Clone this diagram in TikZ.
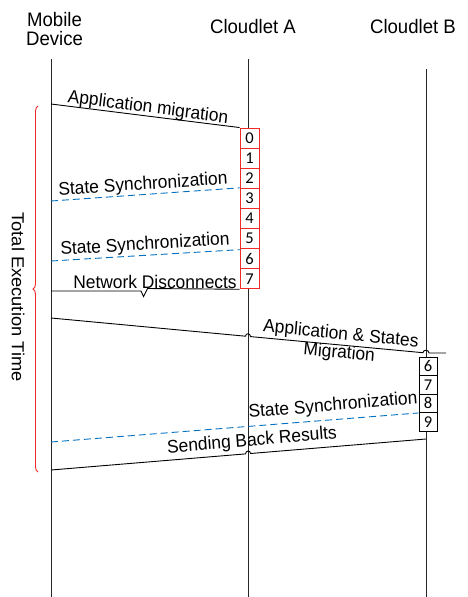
\documentclass[tikz,border=0pt]{standalone}
\usepackage{fontspec}
\setmainfont{Liberation Sans}
\newfontfamily\digitfont{Carlito}
\usetikzlibrary{decorations.pathreplacing}
\definecolor{syncblue}{RGB}{0,112,192}
\definecolor{boxred}{RGB}{240,40,40}

\begin{document}
\begin{tikzpicture}[x=1pt,y=-1pt,
  lifeline/.style={draw=black!85, line width=0.9pt},
  msg/.style={draw=black, line width=0.9pt},
  sync/.style={draw=syncblue, line width=0.9pt, dash pattern=on 7pt off 4pt},
  hdr/.style={font=\fontsize{18.6}{18.5}\selectfont, align=center, inner sep=0pt, yscale=1.05},
  lbl/.style={font=\fontsize{17.4}{18}\selectfont, align=center, inner sep=0pt, yscale=1.05},
  redbox/.style={draw=boxred, fill=white, line width=0.9pt, minimum width=19pt,
    minimum height=20.1pt, inner sep=0pt, font=\digitfont\fontsize{16.5}{16.5}\selectfont},
  blkbox/.style={draw=black, fill=white, line width=0.9pt, minimum width=18pt,
    minimum height=18.5pt, inner sep=0pt, font=\digitfont\fontsize{16.5}{16.5}\selectfont},
  brace/.style={draw=boxred, line width=0.9pt, decorate,
    decoration={brace, amplitude=5pt}}
]
\useasboundingbox (0,0) rectangle (468,597);

% column headers
\node[hdr] (mob) at (54.5,29) {Mobile\\Device};
\node[hdr] (cla) at (253,27) {Cloudlet A};
\node[hdr] (clb) at (413,27) {Cloudlet B};

% lifelines
\coordinate (mtop) at (51,59);   \coordinate (mbot) at (51,597);
\coordinate (atop) at (248,59);  \coordinate (abot) at (248,597);
\coordinate (btop) at (426,69);  \coordinate (bbot) at (426,597);
\draw[lifeline] (mtop) -- (mbot);
\draw[lifeline] (atop) -- (abot);
\draw[lifeline] (btop) -- (bbot);

% state counters on cloudlet A
\foreach \i in {0,...,7} {
  \node[redbox] (r\i) at (249.5, {138.05+20.1*\i}) {\i};
}
% state counters on cloudlet B
\foreach \i in {6,...,9} {
  \node[blkbox] (b\i) at (428, {366.25+18.5*(\i-6)}) {\i};
}

% message end points on the mobile lifeline
\coordinate (m1) at (51,104);
\coordinate (m2) at (51,201);
\coordinate (m3) at (51,261);
\coordinate (m4) at (51,291);
\coordinate (m5) at (51,318);
\coordinate (m6) at (51,442);
\coordinate (m7) at (51,470);
\coordinate (bsend) at (426,439);
\coordinate (btail) at (446,353);

% application migration
\draw[msg] (m1) -- (r0.north west);
\node[lbl, rotate=-7.2] (tmig) at (148,108) {Application migration};

% periodic state synchronisation
\draw[sync] (m2) -- (r3.north west);
\node[lbl, rotate=3.6] (tsync1) at (143,185) {State Synchronization};
\draw[sync] (m3) -- ([yshift=-1.5pt]r6.north west);
\node[lbl, rotate=3.4] (tsync2) at (145,245) {State Synchronization};

% broken link
\draw[msg] (m4) -- (141,291) -- (143.5,296.5) -- (147.5,288.5) -- (r7.south west);
\node[lbl, anchor=base] (tnet) at (155,288.5) {Network Disconnects};

% migration to cloudlet B
\draw[msg] (m5) -- (245.5,336.2) .. controls +(0,-3.5) and +(0,-3.5) .. (250.5,336.6)
  -- (423,352.7) .. controls +(0,-3.5) and +(0,-3.5) .. (429,353) -- (btail);
\node[lbl, rotate=-5.3] (tmig2) at (340,344) {Application \& States\\Migration};

% synchronisation from cloudlet B
\draw[sync] (m6) -- (b8.south west);
\node[lbl, rotate=4.7] (tsync3) at (333,406) {State Synchronization};

% results back to the device
\draw[msg] (bsend) -- (250.5,453.5) .. controls +(0,-3.5) and +(0,-3.5) .. (245.5,453.9) -- (m7);
\node[lbl, rotate=4.7] (tres) at (252,441) {Sending Back Results};

% total execution time
\draw[brace] (38,472) -- (38,106);
\node[lbl, rotate=-90] (ttot) at (18,297) {Total Execution Time};
\end{tikzpicture}
\end{document}
